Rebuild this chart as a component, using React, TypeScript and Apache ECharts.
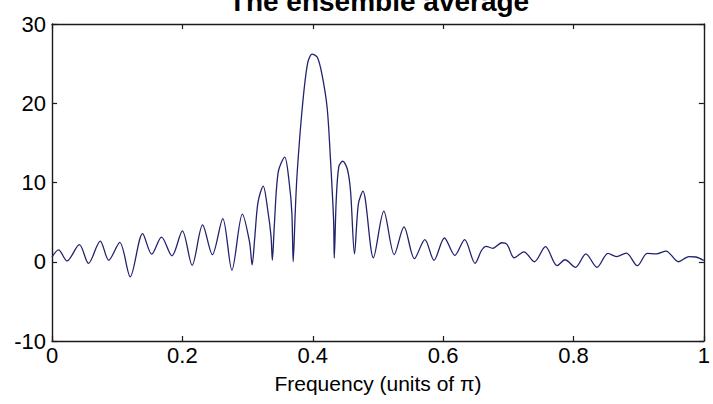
import React, { useEffect, useRef } from "react";
import * as echarts from "echarts";

// Normalised frequency (units of pi) and ensemble-averaged magnitude
const freq = [
  0.0, 0.01, 0.023, 0.042, 0.056, 0.074, 0.087, 0.104, 0.12, 0.139,
  0.153, 0.168, 0.184, 0.2, 0.215, 0.231, 0.246, 0.262, 0.276, 0.292,
  0.303, 0.307, 0.311, 0.316, 0.324, 0.331, 0.336, 0.338, 0.341, 0.347,
  0.357, 0.364, 0.368, 0.37, 0.373, 0.376, 0.384, 0.392, 0.399, 0.407,
  0.414, 0.422, 0.427, 0.432, 0.433, 0.436, 0.44, 0.446, 0.453, 0.458,
  0.464, 0.47, 0.477, 0.493, 0.509, 0.525, 0.54, 0.556, 0.572, 0.586,
  0.602, 0.618, 0.633, 0.649, 0.659, 0.666, 0.676, 0.69, 0.698, 0.709,
  0.724, 0.74, 0.757, 0.775, 0.787, 0.803, 0.819, 0.836, 0.853, 0.866,
  0.881, 0.898, 0.913, 0.927, 0.942, 0.961, 0.977, 0.988, 1.0,
];
const amplitude = [
  0.6, 1.5, 0.1, 2.15, -0.2, 2.6, 0.2, 2.45, -1.9, 3.55,
  0.95, 3.1, 0.75, 3.9, -0.45, 4.65, 0.9, 5.45, -1.05, 6.0,
  2.5, -0.4, 3.0, 7.5, 9.55, 6.5, 3.2, 0.2, 4.5, 11.3,
  13.2, 9.9, 6.1, 0.0, 6.0, 11.1, 19.5, 25.0, 26.2, 25.8,
  23.7, 19.5, 13.2, 5.2, 0.45, 7.8, 12.0, 12.7, 11.7, 8.9,
  1.0, 7.3, 8.9, 0.5, 6.4, 0.9, 4.4, 0.4, 2.8, 0.2,
  3.0, 0.8, 2.8, -0.2, 1.45, 1.95, 1.7, 2.4, 2.2, 0.5,
  1.25, 0.0, 1.9, -0.5, 0.25, -0.7, 1.0, -0.7, 1.05, 0.65,
  1.1, -0.5, 1.05, 1.0, 1.35, 0.0, 0.65, 0.6, 0.15,
];

const xTicks = { min: 0, max: 1, interval: 0.2 };
const yTicks = { min: -10, max: 30, interval: 10 };

const titleText = "The ensemble average";
const xLabel = "Frequency (units of \u03c0)";

const FONT = "Liberation Sans, Arial, Helvetica, sans-serif";

export default function App() {
  const ref = useRef<HTMLDivElement>(null);

  useEffect(() => {
    if (!ref.current) return;
    const chart = echarts.init(ref.current, null, { renderer: "svg" });

    const lineAxis = { show: true, onZero: false, lineStyle: { color: "#1a1a1a", width: 1.4 } };
    const tick = { show: true, inside: true, length: 5, lineStyle: { color: "#1a1a1a", width: 1.2 } };
    const labelStyle = { color: "#000", fontSize: 22, fontFamily: FONT };

    chart.setOption({
      animation: false,
      backgroundColor: "#fff",
      grid: { left: 52, right: 6, top: 24, bottom: 63 },
      graphic: [
        {
          type: "text",
          x: 379,
          y: 1,
          style: {
            text: titleText,
            align: "center",
            verticalAlign: "middle",
            fill: "#000",
            font: `bold 28px ${FONT}`,
          },
        },
      ],
      xAxis: [
        {
          type: "value",
          position: "bottom",
          ...xTicks,
          axisLine: lineAxis,
          axisTick: tick,
          splitLine: { show: false },
          axisLabel: { ...labelStyle, margin: 3 },
          name: xLabel,
          nameLocation: "middle",
          nameGap: 32,
          nameTextStyle: { color: "#000", fontSize: 21, fontFamily: FONT },
        },
        {
          type: "value",
          position: "top",
          ...xTicks,
          axisLine: lineAxis,
          axisTick: tick,
          splitLine: { show: false },
          axisLabel: { show: false },
        },
      ],
      yAxis: [
        {
          type: "value",
          position: "left",
          ...yTicks,
          axisLine: lineAxis,
          axisTick: tick,
          splitLine: { show: false },
          axisLabel: { ...labelStyle, margin: 6 },
        },
        {
          type: "value",
          position: "right",
          ...yTicks,
          axisLine: lineAxis,
          axisTick: tick,
          splitLine: { show: false },
          axisLabel: { show: false },
        },
      ],
      series: [
        {
          type: "line",
          xAxisIndex: 0,
          yAxisIndex: 0,
          data: freq.map((f, i) => [f, amplitude[i]]),
          showSymbol: false,
          smooth: 0.3,
          lineStyle: { color: "#22226e", width: 1.3 },
        },
      ],
    });

    return () => chart.dispose();
  }, []);

  return <div ref={ref} style={{ width: 713, height: 404, position: "absolute", left: 0, top: 0 }} />;
}
